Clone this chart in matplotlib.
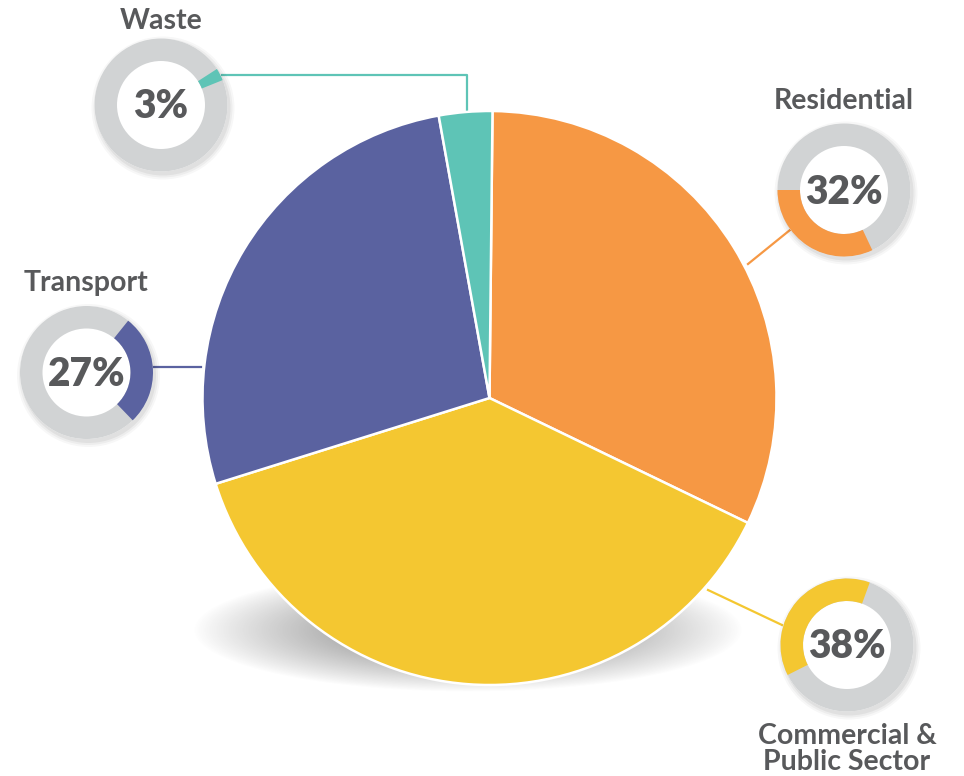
import numpy as np
import matplotlib
matplotlib.use("Agg")
import matplotlib.pyplot as plt
from matplotlib.patches import Wedge, Circle

# ---- data ----
categories = ["Residential", "Commercial &\nPublic Sector", "Transport", "Waste"]
values = [32, 38, 27, 3]
pct_labels = ["32%", "38%", "27%", "3%"]
colors = ["#F69844", "#F4C731", "#5A62A0", "#5EC4B6"]

W, H = 964, 776
fig = plt.figure(figsize=(W / 100, H / 100), dpi=100)
ax = fig.add_axes([0, 0, 1, 1])

def Y(y):
    return H - y

TXT = "#58595B"
GRAY = "#D1D3D4"
FONT = ["Lato", "DejaVu Sans"]

# ---- soft shadow under the pie ----
xs = np.linspace(150, 830, 400)
ys = np.linspace(540, 720, 200)
XX, YY = np.meshgrid(xs, ys)
cx, cy, sx, sy = 468, 630, 275, 62
d = np.sqrt(((XX - cx) / sx) ** 2 + ((YY - cy) / sy) ** 2)
alpha = 0.95 * np.clip(1 - d, 0, 1) ** 0.9
rgba = np.zeros(XX.shape + (4,))
rgba[..., :3] = 0.42
rgba[..., 3] = alpha
ax.imshow(rgba, extent=[xs[0], xs[-1], Y(ys[-1]), Y(ys[0])], origin="upper",
          interpolation="bilinear", zorder=0, aspect="auto")

# ---- main pie ----
pie_c = (489.5, Y(398))
pie_r = 287
ax.pie(values, colors=colors, startangle=89.4, counterclock=False,
       center=pie_c, radius=pie_r, frame=True,
       wedgeprops=dict(edgecolor="white", linewidth=1.8, zorder=2))

# ---- small rings ----
ring_centers = [(844, 190), (847, 645), (86.5, 372.5), (161, 105)]
ring_starts = [180, 70, -46, 22]
R_OUT, R_W = 66.5, 22.5
for (rx, ry), start, v, col, pl in zip(ring_centers, ring_starts, values, colors, pct_labels):
    c = (rx, Y(ry))
    # faint drop shadow
    for k, a in enumerate([0.05, 0.04, 0.03]):
        ax.add_patch(Circle((c[0] + 2, c[1] - 3), R_OUT + 1 + 2 * k, color="black",
                            alpha=a, lw=0, zorder=3))
    ax.add_patch(Circle(c, R_OUT, color="white", lw=0, zorder=3.5))
    ax.add_patch(Wedge(c, R_OUT, 0, 360, width=R_W, color=GRAY, lw=0, zorder=4))
    ax.add_patch(Wedge(c, R_OUT, start, start + v * 3.6, width=R_W, color=col,
                       lw=0, zorder=5))
    ax.text(c[0], c[1] - 2, pl, ha="center", va="center", fontsize=28,
            fontweight="heavy", color=TXT, family=FONT, zorder=6)

# ---- connector lines ----
ax.plot([222, 467, 467], [Y(75), Y(75), Y(111)], color=colors[3], lw=1.6, zorder=1.5)
ax.plot([790, 748], [Y(230), Y(264)], color=colors[0], lw=1.6, zorder=1.5)
ax.plot([153, 201], [Y(367), Y(367)], color=colors[2], lw=1.6, zorder=1.5)
ax.plot([782, 708], [Y(625), Y(590)], color=colors[1], lw=1.6, zorder=1.5)

# ---- category labels ----
label_pos = [(844, 101), (847, 749), (86, 283), (161, 21)]
for (lx, ly), name in zip(label_pos, categories):
    ax.text(lx, Y(ly), name, ha="center", va="center", fontsize=20.5,
            fontweight="bold", color=TXT, family=FONT, linespacing=1.0, zorder=6)

ax.set_xlim(0, W)
ax.set_ylim(0, H)
ax.set_aspect("auto")
ax.axis("off")
fig.savefig("out.png", dpi=100, facecolor="white")
